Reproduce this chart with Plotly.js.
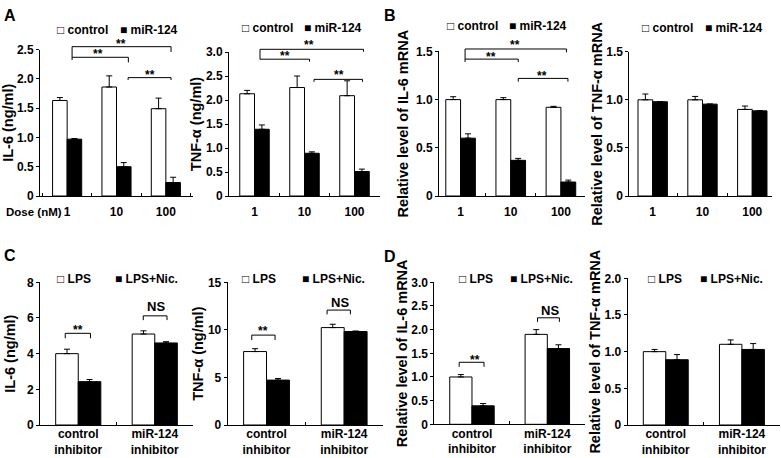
<!DOCTYPE html>
<html><head><meta charset="utf-8">
<script src="https://cdn.plot.ly/plotly-3.0.1.min.js"></script>
<style>html,body{margin:0;padding:0;background:#fff}</style>
</head><body><div id="chart" style="width:781px;height:458px"></div>
<script>
// ---------------- data ----------------
const doseCats = ["1", "10", "100"];
const topSeries = ["control", "miR-124"];
const il6ProtControl = [1.63, 1.86, 1.49];
const il6ProtControlErr = [0.05, 0.19, 0.18];
const il6ProtMiR = [0.97, 0.50, 0.23];
const il6ProtMiRErr = [0.01, 0.07, 0.09];
const tnfProtControl = [2.13, 2.26, 2.09];
const tnfProtControlErr = [0.07, 0.24, 0.31];
const tnfProtMiR = [1.39, 0.89, 0.51];
const tnfProtMiRErr = [0.09, 0.03, 0.05];
const il6MrnaControl = [1.0, 1.0, 0.92];
const il6MrnaControlErr = [0.03, 0.02, 0.01];
const il6MrnaMiR = [0.60, 0.37, 0.145];
const il6MrnaMiRErr = [0.045, 0.02, 0.02];
const tnfMrnaControl = [1.0, 1.0, 0.90];
const tnfMrnaControlErr = [0.06, 0.035, 0.035];
const tnfMrnaMiR = [0.98, 0.955, 0.885];
const tnfMrnaMiRErr = [0, 0, 0];

const inhibitorCats = ["control<br>inhibitor", "miR-124<br>inhibitor"];
const bottomSeries = ["LPS", "LPS+Nic."];
const il6InhLPS = [4.0, 5.1];
const il6InhLPSErr = [0.25, 0.18];
const il6InhNic = [2.43, 4.6];
const il6InhNicErr = [0.12, 0.07];
const tnfInhLPS = [7.72, 10.24];
const tnfInhLPSErr = [0.3, 0.35];
const tnfInhNic = [4.72, 9.83];
const tnfInhNicErr = [0.17, 0.05];
const il6MrnaInhLPS = [1.0, 1.9];
const il6MrnaInhLPSErr = [0.05, 0.1];
const il6MrnaInhNic = [0.39, 1.6];
const il6MrnaInhNicErr = [0.05, 0.08];
const tnfMrnaInhLPS = [1.0, 1.1];
const tnfMrnaInhLPSErr = [0.03, 0.06];
const tnfMrnaInhNic = [0.89, 1.03];
const tnfMrnaInhNicErr = [0.07, 0.08];

const yTicksA1 = [0, 0.5, 1, 1.5, 2, 2.5];
const yTextA1 = ["0", "0.5", "1.0", "1.5", "2.0", "2.5"];
const yTicksA2 = [0, 0.5, 1, 1.5, 2, 2.5, 3];
const yTextA2 = ["0", "0.5", "1.0", "1.5", "2.0", "2.5", "3.0"];
const yTicksB = [0, 0.5, 1, 1.5];
const yTextB = ["0", "0.5", "1.0", "1.5"];
const yTicksC1 = [0, 2, 4, 6, 8];
const yTextC1 = ["0", "2", "4", "6", "8"];
const yTicksC2 = [0, 5, 10, 15];
const yTextC2 = ["0", "5", "10", "15"];
const yTicksD1 = [0, 0.5, 1, 1.5, 2, 2.5, 3];
const yTextD1 = ["0", "0.5", "1.0", "1.5", "2.0", "2.5", "3.0"];
const yTicksD2 = [0, 0.5, 1, 1.5, 2];
const yTextD2 = ["0", "0.5", "1.0", "1.5", "2.0"];

// ---------------- layout helpers ----------------
const W = 781, H = 458;
const FONT = "Liberation Sans, Arial, sans-serif";
const panels = [
  {cats: doseCats, names: topSeries, a: il6ProtControl, ae: il6ProtControlErr, b: il6ProtMiR, be: il6ProtMiRErr,
   px: [40, 193], py: [49.5, 196], xr: [-0.55, 2.55], yr: [0, 2.5], tv: yTicksA1, tt: yTextA1,
   title: "IL-6 (ng/ml)", so: 0, leg: [[55, 30], [118, 30]]},
  {cats: doseCats, names: topSeries, a: tnfProtControl, ae: tnfProtControlErr, b: tnfProtMiR, be: tnfProtMiRErr,
   px: [229, 380], py: [52, 196], xr: [-0.51, 2.51], yr: [0, 3], tv: yTicksA2, tt: yTextA2,
   title: "TNF-α (ng/ml)", so: 0, leg: [[240, 28.3], [301.5, 28.3]]},
  {cats: doseCats, names: topSeries, a: il6MrnaControl, ae: il6MrnaControlErr, b: il6MrnaMiR, be: il6MrnaMiRErr,
   px: [439, 585], py: [51.4, 196], xr: [-0.43, 2.48], yr: [0, 1.5], tv: yTicksB, tt: yTextB,
   title: "Relative level of IL-6 mRNA", so: 3, leg: [[445, 26], [506.5, 26]]},
  {cats: doseCats, names: topSeries, a: tnfMrnaControl, ae: tnfMrnaControlErr, b: tnfMrnaMiR, be: tnfMrnaMiRErr,
   px: [629.3, 771.7], py: [51.7, 196], xr: [-0.47, 2.39], yr: [0, 1.5], tv: yTicksB, tt: yTextB,
   title: "Relative level of TNF-α mRNA", so: 0, leg: [[640, 28.3], [703, 28.3]]},
  {cats: inhibitorCats, names: bottomSeries, a: il6InhLPS, ae: il6InhLPSErr, b: il6InhNic, be: il6InhNicErr,
   px: [40, 193], py: [282.3, 425], xr: [-0.5, 1.5], yr: [0, 8], tv: yTicksC1, tt: yTextC1,
   title: "IL-6 (ng/ml)", so: 7, leg: [[55, 278.5], [113, 278.5]]},
  {cats: inhibitorCats, names: bottomSeries, a: tnfInhLPS, ae: tnfInhLPSErr, b: tnfInhNic, be: tnfInhNicErr,
   px: [227.7, 383], py: [282.3, 425], xr: [-0.5, 1.5], yr: [0, 15], tv: yTicksC2, tt: yTextC2,
   title: "TNF-α (ng/ml)", so: 0, leg: [[240, 279], [300, 279]]},
  {cats: inhibitorCats, names: bottomSeries, a: il6MrnaInhLPS, ae: il6MrnaInhLPSErr, b: il6MrnaInhNic, be: il6MrnaInhNicErr,
   px: [434.3, 585], py: [282.3, 424.3], xr: [-0.5, 1.5], yr: [0, 3], tv: yTicksD1, tt: yTextD1,
   title: "Relative level of IL-6 mRNA", so: 0, leg: [[456.5, 278.5], [508, 278.5]]},
  {cats: inhibitorCats, names: bottomSeries, a: tnfMrnaInhLPS, ae: tnfMrnaInhLPSErr, b: tnfMrnaInhNic, be: tnfMrnaInhNicErr,
   px: [627.7, 780], py: [278.3, 425], xr: [-0.5, 1.5], yr: [0, 2], tv: yTicksD2, tt: yTextD2,
   title: "Relative level of TNF-α mRNA", so: 0, leg: [[646, 278.5], [698, 278.5]]}
];

// significance brackets: [x0, x1, yTop, yLeftEnd, yRightEnd] in data units
const brackets = {
  1: [[0.10, 2.105, 2.548, 2.32, 2.457], [0.10, 1.24, 2.367, 2.367, 2.28], [1.235, 2.105, 2.02, 1.98, 1.98]],
  2: [[0.11, 2.18, 3.056, 2.85, 3.006], [0.11, 1.10, 2.85, 2.85, 2.80], [1.19, 2.16, 2.43, 2.38, 2.38]],
  3: [[0.09, 2.11, 1.525, 1.39, 1.49], [0.09, 1.15, 1.42, 1.42, 1.39], [1.15, 2.14, 1.22, 1.186, 1.186]],
  5: [[-0.17, 0.16, 5.14, 4.86, 4.86], [0.85, 1.16, 6.12, 5.88, 5.88]],
  6: [[-0.19, 0.11, 9.45, 8.93, 8.93], [0.78, 1.08, 12.08, 11.63, 11.63]],
  7: [[-0.17, 0.16, 1.31, 1.215, 1.215], [0.87, 1.16, 2.25, 2.165, 2.165]]
};
// significance labels: [x, y, text] in data units
const sigLabels = {
  1: [[1.09, 2.645, "**"], [0.63, 2.474, "**"], [1.67, 2.11, "**"]],
  2: [[1.08, 3.21, "**"], [0.6, 2.97, "**"], [1.68, 2.59, "**"]],
  3: [[1.08, 1.60, "**"], [0.61, 1.47, "**"], [1.63, 1.28, "**"]],
  5: [[0.0, 5.47, "**"], [1.02, 6.63, "NS"]],
  6: [[-0.04, 10.16, "**"], [0.94, 12.85, "NS"]],
  7: [[0.04, 1.43, "**"], [1.035, 2.41, "NS"]]
};

const traces = [];
const layout = {
  width: W, height: H, autosize: false,
  margin: {l: 0, r: 0, t: 0, b: 0, pad: 0},
  paper_bgcolor: "#fff", plot_bgcolor: "#fff",
  font: {family: FONT, size: 12, color: "#000", weight: "bold"},
  barmode: "group", bargap: 0.41, bargroupgap: 0,
  showlegend: false,
  shapes: [], annotations: []
};

panels.forEach((p, i) => {
  const n = i + 1;
  const xa = n === 1 ? "x" : "x" + n;
  const ya = n === 1 ? "y" : "y" + n;
  const zeros = p.a.map(() => 0);
  const errStyle = {type: "data", symmetric: false, arrayminus: zeros, color: "#000", thickness: 1, width: 3};
  traces.push({type: "bar", name: p.names[0], x: p.cats, y: p.a, xaxis: xa, yaxis: ya,
    marker: {color: "#fff", line: {color: "#000", width: 1}},
    error_y: Object.assign({}, errStyle, {array: p.ae}), hoverinfo: "skip"});
  traces.push({type: "bar", name: p.names[1], x: p.cats, y: p.b, xaxis: xa, yaxis: ya,
    marker: {color: "#000", line: {color: "#000", width: 1}},
    error_y: Object.assign({}, errStyle, {array: p.be}), hoverinfo: "skip"});

  layout[n === 1 ? "xaxis" : "xaxis" + n] = {
    domain: [p.px[0] / W, p.px[1] / W], anchor: ya, type: "category", range: p.xr,
    showline: true, linecolor: "#000", linewidth: 1, mirror: false,
    ticks: "inside", tickson: "boundaries", ticklen: 3, tickcolor: "#000", tickwidth: 1,
    showgrid: false, zeroline: false, fixedrange: true,
    tickfont: {size: 12}, ticklabelstandoff: i < 4 ? 5 : -2
  };
  layout[n === 1 ? "yaxis" : "yaxis" + n] = {
    domain: [1 - p.py[1] / H, 1 - p.py[0] / H], anchor: xa, range: p.yr,
    showline: true, linecolor: "#000", linewidth: 1,
    ticks: "outside", ticklen: 3, tickcolor: "#000", tickwidth: 1,
    tickmode: "array", tickvals: p.tv, ticktext: p.tt,
    showgrid: false, zeroline: false, fixedrange: true, tickfont: {size: 12},
    title: {text: p.title, font: {size: 14.5}, standoff: p.so}
  };

  // legend entries as text with square glyphs
  ["□ ", "■ "].forEach((g, k) => {
    layout.annotations.push({xref: "paper", yref: "paper", x: p.leg[k][0] / W, y: 1 - p.leg[k][1] / H,
      xanchor: "left", yanchor: "middle", showarrow: false, text: g + p.names[k], font: {size: 12}});
  });

  const ymax = p.yr[1];
  (brackets[n] || []).forEach(b => {
    const lineStyle = {color: "#000", width: 1};
    const base = {type: "line", xref: xa, yref: ya + " domain", line: lineStyle};
    layout.shapes.push(Object.assign({}, base, {x0: b[0], x1: b[1], y0: b[2] / ymax, y1: b[2] / ymax}));
    layout.shapes.push(Object.assign({}, base, {x0: b[0], x1: b[0], y0: b[2] / ymax, y1: b[3] / ymax}));
    layout.shapes.push(Object.assign({}, base, {x0: b[1], x1: b[1], y0: b[2] / ymax, y1: b[4] / ymax}));
  });
  (sigLabels[n] || []).forEach(s => {
    layout.annotations.push({xref: xa, yref: ya + " domain", x: s[0], y: s[1] / ymax, text: s[2],
      showarrow: false, xanchor: "center", yanchor: "middle",
      font: {size: s[2] === "NS" ? 13 : 12}, yshift: s[2] === "NS" ? 0 : -3});
  });
});

// panel letters and the dose label
const panelLetters = [["A", 10, 15], ["B", 390, 15], ["C", 10, 255], ["D", 390, 256]];
panelLetters.forEach(l => layout.annotations.push({xref: "paper", yref: "paper", x: l[1] / W, y: 1 - l[2] / H,
  text: l[0], showarrow: false, xanchor: "center", yanchor: "middle", font: {size: 16}}));
layout.annotations.push({xref: "paper", yref: "paper", x: 4 / W, y: 1 - 212 / H, text: "Dose (nM)",
  showarrow: false, xanchor: "left", yanchor: "middle", font: {size: 11.5}});

Plotly.newPlot("chart", traces, layout, {staticPlot: true, displayModeBar: false});
</script>
</body></html>
